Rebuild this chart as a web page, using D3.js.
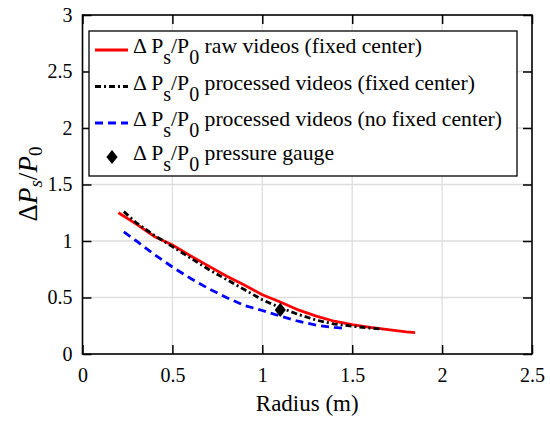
<!DOCTYPE html>
<html>
<head>
<meta charset="utf-8">
<script src="https://cdn.jsdelivr.net/npm/d3@7"></script>
<style>
  body { margin: 0; background: #fff; }
</style>
</head>
<body>
<div id="chart"></div>
<script>
// ---- data ----
let rawR   = [0.2, 0.3, 0.4, 0.5, 0.6, 0.7, 0.8, 0.9, 1.0, 1.1, 1.2, 1.3, 1.4, 1.5, 1.6, 1.7, 1.8, 1.85];
let rawV   = [1.25, 1.15, 1.04, 0.965, 0.87, 0.78, 0.69, 0.61, 0.525, 0.46, 0.39, 0.335, 0.29, 0.26, 0.235, 0.215, 0.195, 0.19];
let procR  = [0.23, 0.3, 0.4, 0.5, 0.6, 0.7, 0.8, 0.9, 1.0, 1.1, 1.2, 1.3, 1.4, 1.5, 1.6, 1.67];
let procV  = [1.26, 1.16, 1.05, 0.95, 0.85, 0.75, 0.66, 0.57, 0.48, 0.41, 0.35, 0.30, 0.265, 0.245, 0.23, 0.22];
let noFixR = [0.23, 0.3, 0.4, 0.5, 0.6, 0.7, 0.8, 0.9, 1.0, 1.1, 1.2, 1.3, 1.4, 1.46];
let noFixV = [1.08, 1.0, 0.88, 0.77, 0.67, 0.58, 0.5, 0.43, 0.385, 0.335, 0.29, 0.255, 0.235, 0.227];
let gaugeR = [1.1];
let gaugeV = [0.39];

let xTicks = [0, 0.5, 1, 1.5, 2, 2.5];
let yTicks = [0, 0.5, 1, 1.5, 2, 2.5, 3];
let legendNames = ["raw videos (fixed center)", "processed videos (fixed center)",
                   "processed videos (no fixed center)", "pressure gauge"];

let serif = "\"Liberation Serif\"";

// ---- sizes ----
let svgWidth = 550, svgHeight = 421;
let margin = { top: 15, right: 18, bottom: 67, left: 82.5 };
let width = svgWidth - margin.left - margin.right;
let height = svgHeight - margin.top - margin.bottom;

let svg = d3.select("#chart").append("svg")
    .attr("width", svgWidth)
    .attr("height", svgHeight);

let chartGroup = svg.append("g")
    .attr("transform", `translate(${margin.left}, ${margin.top})`);

let x = d3.scaleLinear().domain([0, 2.5]).range([0, width]);
let y = d3.scaleLinear().domain([0, 3]).range([height, 0]);

// grid
chartGroup.append("g").selectAll("line").data(xTicks.slice(1, -1)).enter().append("line")
    .attr("x1", d => x(d)).attr("x2", d => x(d))
    .attr("y1", 0).attr("y2", height)
    .attr("stroke", "#dedede").attr("stroke-width", 1.3);
chartGroup.append("g").selectAll("line").data(yTicks.slice(1, -1)).enter().append("line")
    .attr("y1", d => y(d)).attr("y2", d => y(d))
    .attr("x1", 0).attr("x2", width)
    .attr("stroke", "#dedede").attr("stroke-width", 1.3);

// axes, ticks inward on all sides
let tickLen = 9;
function styleAxis(g) {
    g.attr("font-family", null).attr("font-size", null);
    g.select(".domain").remove();
    g.selectAll(".tick line").attr("stroke", "#000").attr("stroke-width", 1.5);
    g.selectAll(".tick text").style("font-size", "20px").style("font-family", serif).attr("fill", "#000");
}
chartGroup.append("g")
    .attr("transform", `translate(0, ${height})`)
    .call(d3.axisBottom(x).tickValues(xTicks).tickFormat(d3.format("")).tickSizeInner(-tickLen).tickPadding(14))
    .call(styleAxis);
chartGroup.append("g")
    .call(d3.axisLeft(y).tickValues(yTicks).tickFormat(d3.format("")).tickSizeInner(-tickLen).tickPadding(10))
    .call(styleAxis);
chartGroup.append("g")
    .call(d3.axisTop(x).tickValues(xTicks).tickFormat("").tickSizeInner(-tickLen))
    .call(styleAxis);
chartGroup.append("g")
    .attr("transform", `translate(${width}, 0)`)
    .call(d3.axisRight(y).tickValues(yTicks).tickFormat("").tickSizeInner(-tickLen))
    .call(styleAxis);

chartGroup.append("rect")
    .attr("width", width).attr("height", height)
    .attr("fill", "none").attr("stroke", "#000").attr("stroke-width", 1.6);

// series
let line = d3.line().x(d => x(d[0])).y(d => y(d[1]));
let series = [
    { r: rawR,   v: rawV,   color: "#ff0000", dash: null,      w: 2.8 },
    { r: procR,  v: procV,  color: "#000000", dash: "6,3,2,3", w: 2.8 },
    { r: noFixR, v: noFixV, color: "#0000ff", dash: "8,5",     w: 2.8 }
];
series.forEach(s => {
    chartGroup.append("path")
        .datum(d3.zip(s.r, s.v))
        .attr("d", line)
        .attr("fill", "none")
        .attr("stroke", s.color)
        .attr("stroke-width", s.w)
        .attr("stroke-dasharray", s.dash);
});

let diamond = d3.symbol().type(d3.symbolDiamond).size(90);
chartGroup.selectAll(".gauge").data(d3.zip(gaugeR, gaugeV)).enter().append("path")
    .attr("class", "gauge")
    .attr("d", diamond)
    .attr("transform", d => `translate(${x(d[0])}, ${y(d[1])}) scale(1.1, 0.8)`)
    .attr("fill", "#000");

// legend
let legend = svg.append("g").attr("transform", "translate(89, 31)");
legend.append("rect")
    .attr("width", 428).attr("height", 145)
    .attr("fill", "#fff").attr("stroke", "#000").attr("stroke-width", 1.3);

let rowY = [19, 55.5, 92, 126];
legendNames.forEach((name, i) => {
    let row = legend.append("g").attr("transform", `translate(0, ${rowY[i]})`);
    if (i < 3) {
        let s = series[i];
        row.append("line")
            .attr("x1", 6).attr("x2", 39).attr("y1", 0).attr("y2", 0)
            .attr("stroke", s.color).attr("stroke-width", s.w)
            .attr("stroke-dasharray", s.dash);
    } else {
        row.append("path").attr("d", diamond)
            .attr("transform", "translate(23, 0) scale(1.1, 0.8)")
            .attr("fill", "#000");
    }
    let t = row.append("text").attr("x", 44).attr("y", 3)
        .style("font-family", serif).style("font-size", "21.7px");
    t.append("tspan").text("\u0394 P");
    t.append("tspan").attr("dy", 11).style("font-size", "20px").text("s");
    t.append("tspan").attr("dy", -11).text("/P");
    t.append("tspan").attr("dy", 11).style("font-size", "20px").text("0");
    t.append("tspan").attr("dy", -11).text(" " + name);
});

// axis labels
svg.append("text")
    .attr("x", margin.left + width / 2).attr("y", 411)
    .attr("text-anchor", "middle")
    .style("font-family", serif).style("font-size", "23px")
    .text("Radius (m)");

let yl = svg.append("text")
    .attr("transform", "translate(37, 184) rotate(-90)")
    .attr("text-anchor", "middle")
    .style("font-family", serif).style("font-size", "27px");
yl.append("tspan").text("\u0394");
yl.append("tspan").style("font-style", "italic").text("P");
yl.append("tspan").attr("dy", 5).style("font-style", "italic").style("font-size", "19px").text("s");
yl.append("tspan").attr("dy", -5).text("/");
yl.append("tspan").style("font-style", "italic").text("P");
yl.append("tspan").attr("dy", 5).style("font-size", "19px").text("0");
</script>
</body>
</html>
